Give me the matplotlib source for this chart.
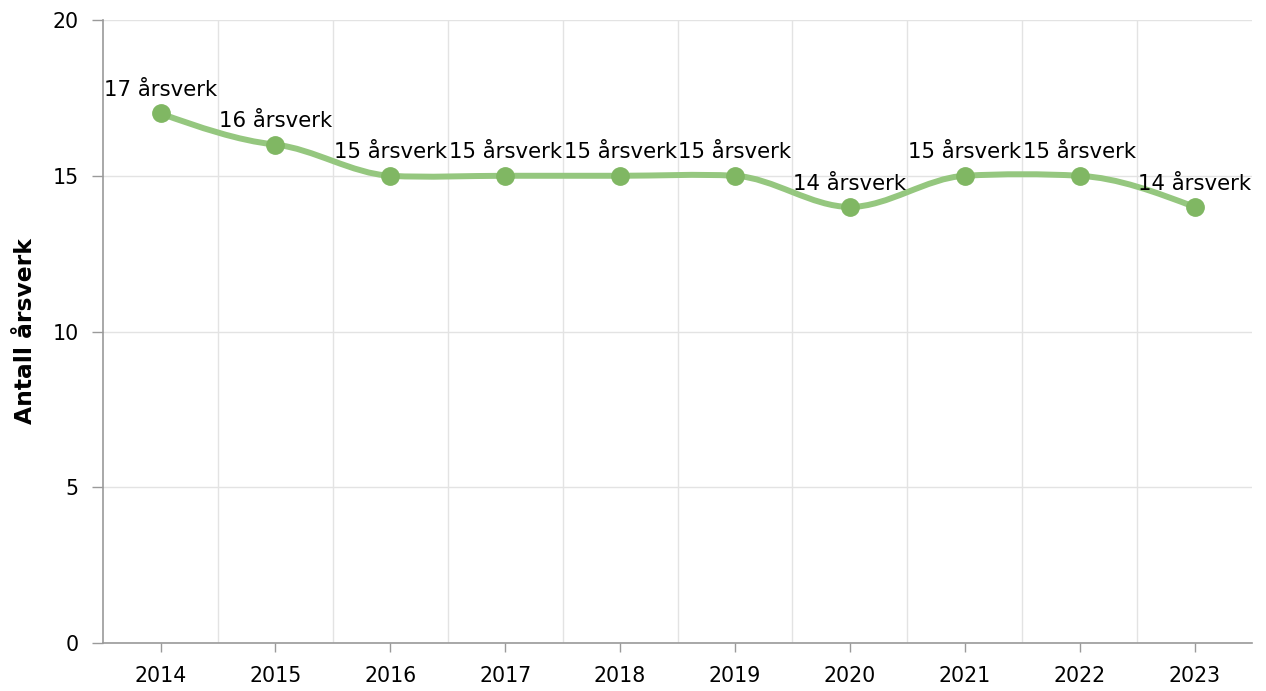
import numpy as np
import matplotlib
matplotlib.use("Agg")
import matplotlib.pyplot as plt
from matplotlib.path import Path
from matplotlib.patches import PathPatch

# ===============================
# Data
# ===============================
years = ["2014", "2015", "2016", "2017", "2018", "2019", "2020", "2021", "2022", "2023"]
arsverk = [17, 16, 15, 15, 15, 15, 14, 15, 15, 14]
y_ticks = [0, 5, 10, 15, 20]
y_label = "Antall årsverk"
label_suffix = " årsverk"

LINE_COLOR = "#95c77f"
MARKER_COLOR = "#80b763"
GRID_COLOR = "#e3e3e3"
AXIS_COLOR = "#9a9a9a"


# ===============================
# Smooth curve through the points (cardinal-style hermite)
# ===============================
def smooth_path(xs, ys, tension=0.6):
    n = len(xs)
    xs = np.asarray(xs, float)
    ys = np.asarray(ys, float)
    m = np.zeros(n)
    for i in range(1, n - 1):
        m[i] = (1 - tension) * (ys[i + 1] - ys[i - 1]) / (xs[i + 1] - xs[i - 1])
    # natural-ish end slopes
    d0 = (ys[1] - ys[0]) / (xs[1] - xs[0])
    d1 = (ys[-1] - ys[-2]) / (xs[-1] - xs[-2])
    m[0] = (3 * d0 - m[1]) / 2
    m[-1] = (3 * d1 - m[-2]) / 2

    verts = [(xs[0], ys[0])]
    codes = [Path.MOVETO]
    for i in range(n - 1):
        h = xs[i + 1] - xs[i]
        verts += [(xs[i] + h / 3, ys[i] + m[i] * h / 3),
                  (xs[i + 1] - h / 3, ys[i + 1] - m[i + 1] * h / 3),
                  (xs[i + 1], ys[i + 1])]
        codes += [Path.CURVE4] * 3
    return Path(verts, codes)


# ===============================
# Plot
# ===============================
plt.rcParams["font.family"] = ["DejaVu Sans"]

fig = plt.figure(figsize=(12.66, 6.91), dpi=100)
ax = fig.add_axes([0.0814, 0.0695, 0.9076, 0.9015])

x = np.arange(len(years))

ax.add_patch(PathPatch(smooth_path(x, arsverk), facecolor="none",
                       edgecolor=LINE_COLOR, lw=4.3, capstyle="round",
                       joinstyle="round", zorder=3))
ax.plot(x, arsverk, linestyle="none", marker="o", markersize=12.5,
        color=MARKER_COLOR, zorder=4)

for xi, v in zip(x, arsverk):
    ax.annotate(f"{v}{label_suffix}", (xi, v), xytext=(0, 12.5),
                textcoords="offset points", ha="center", va="baseline",
                fontsize=15.3, color="#000000", zorder=5)

ax.set_xlim(-0.5, len(years) - 0.5)
ax.set_ylim(0, 20)
ax.set_xticks(x)
ax.set_xticklabels(years)
ax.set_yticks(y_ticks)

# category boundary grid lines
ax.set_xticks(np.arange(0.5, len(years) - 0.5, 1), minor=True)
ax.grid(True, which="minor", axis="x", color=GRID_COLOR, lw=1)
ax.grid(True, which="major", axis="y", color=GRID_COLOR, lw=1)
ax.set_axisbelow(True)

for s in ["top", "right"]:
    ax.spines[s].set_visible(False)
for s in ["left", "bottom"]:
    ax.spines[s].set_color(AXIS_COLOR)
    ax.spines[s].set_linewidth(1.2)

ax.tick_params(axis="x", which="major", length=6.5, width=1, color=AXIS_COLOR,
               labelsize=14.8, pad=10)
ax.tick_params(axis="x", which="minor", length=0)
ax.tick_params(axis="y", length=8, width=1, color=AXIS_COLOR,
               labelsize=14.8, pad=9.5)

ax.set_ylabel(y_label, fontsize=16.8, fontweight="bold", labelpad=11)

fig.savefig("out.png", dpi=100)
